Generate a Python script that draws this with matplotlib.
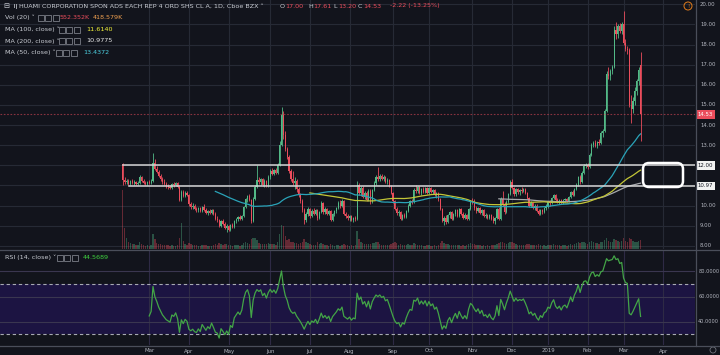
import numpy as np
import pandas as pd
import matplotlib
matplotlib.use("Agg")
import matplotlib.pyplot as plt
from matplotlib.patches import FancyBboxPatch, Rectangle, Circle
from matplotlib.transforms import IdentityTransform, blended_transform_factory

# ---------------- data ----------------
holidays = ['2018-02-19', '2018-03-30', '2018-05-28', '2018-07-04', '2018-09-03',
            '2018-11-22', '2018-12-05', '2018-12-25', '2019-01-01', '2019-01-21',
            '2019-02-18']
start_date, end_date, future_end = '2018-02-08', '2019-03-14', '2019-04-30'

opens = [12.05,11.27,11.15,11.20,11.05,11.20,11.10,11.15,11.05,11.10,11.40,11.20,11.10,11.05,11.15,11.10,11.20,12.10,11.80,11.65,
11.45,11.30,11.15,11.05,10.95,10.90,10.85,11.05,11.00,11.10,10.90,10.25,10.65,10.45,10.60,10.50,10.05,9.95,10.00,9.85,
9.80,9.90,9.75,9.95,9.80,9.65,9.75,9.65,9.80,9.60,9.35,9.30,9.00,9.25,9.10,8.90,9.00,8.80,9.05,8.95,
9.25,9.35,9.45,9.35,9.50,9.95,10.30,10.45,10.25,9.25,10.30,10.90,11.25,11.15,11.30,11.00,11.20,10.95,11.40,11.70,
11.55,11.75,11.60,12.00,13.00,14.50,13.50,12.80,12.40,11.70,11.30,11.10,11.20,10.80,10.50,10.20,9.80,9.30,9.60,9.85,
9.50,9.75,9.60,9.80,9.40,9.70,10.10,9.70,9.85,9.60,9.75,9.30,9.60,9.75,9.90,10.10,10.00,10.20,9.60,9.50,
9.40,9.50,9.30,9.40,9.35,11.00,10.60,10.85,10.40,10.60,10.25,10.70,10.15,10.75,11.10,11.40,11.30,11.45,11.30,11.40,
11.15,11.25,10.95,10.60,10.20,9.85,9.65,9.70,9.35,9.55,9.45,9.75,10.00,10.20,10.15,10.75,10.70,10.90,10.60,10.80,
10.65,10.85,10.60,10.85,10.65,10.75,10.50,10.60,10.30,9.85,9.25,9.40,9.20,9.55,9.70,9.35,9.60,9.80,9.50,9.85,
9.60,9.40,9.55,9.35,9.85,10.20,10.10,9.90,9.75,9.90,9.65,9.80,9.50,9.55,9.40,9.55,9.35,9.25,9.40,9.85,
9.35,10.30,10.05,9.70,10.15,10.55,11.15,10.85,10.55,10.80,10.65,10.75,10.70,10.80,10.60,10.35,10.00,10.10,9.90,10.00,
9.75,9.60,9.80,9.70,9.90,9.95,10.15,10.10,10.35,10.50,10.25,10.15,10.25,10.10,10.25,10.30,10.20,10.40,10.65,10.50,
10.80,11.00,11.40,11.15,11.60,11.95,12.00,11.90,12.50,13.00,13.10,12.95,13.15,13.10,13.60,13.70,14.70,16.55,16.45,16.70,
16.90,18.70,18.50,18.90,18.65,19.00,18.10,17.80,17.75,15.00,14.80,15.20,15.70,16.20,17.00]
highs = [12.10,11.40,11.30,11.30,11.25,11.30,11.25,11.20,11.20,11.50,11.45,11.30,11.20,11.20,11.25,11.30,12.60,12.30,11.95,11.75,
11.55,11.40,11.30,11.15,11.05,11.00,11.10,11.15,11.15,11.15,10.95,10.75,10.75,10.70,10.70,10.55,10.15,10.10,10.05,9.95,
9.95,9.95,10.00,10.05,9.90,9.80,9.85,9.85,9.85,9.70,9.50,9.35,9.30,9.35,9.20,9.10,9.05,9.10,9.15,9.30,
9.40,9.50,9.55,9.55,10.00,10.35,10.50,10.55,10.30,10.40,11.00,12.00,11.40,11.35,11.35,11.30,11.25,11.50,11.80,11.85,
11.80,11.85,12.10,13.20,14.90,14.70,13.70,12.90,12.50,11.80,11.70,11.40,11.30,10.90,10.60,10.30,9.90,9.70,9.95,9.90,
9.85,9.90,9.85,9.85,9.75,10.20,10.15,9.95,9.90,9.80,9.80,9.65,9.80,9.95,10.20,10.25,10.30,10.25,9.70,9.60,
9.55,9.55,9.45,9.50,11.20,11.10,10.95,10.95,10.70,10.70,10.80,10.80,10.80,11.20,11.50,11.90,11.55,11.55,11.50,11.45,
11.35,11.30,11.00,10.65,10.25,9.95,9.80,9.75,9.60,9.65,9.80,10.05,10.25,10.30,10.85,11.00,10.95,10.95,10.85,10.90,
10.90,10.90,10.90,10.90,10.80,10.80,10.65,10.65,10.35,9.90,9.50,9.55,9.60,9.75,9.75,9.65,9.85,9.85,9.90,9.90,
9.70,9.65,9.60,9.90,10.25,10.35,10.30,10.00,9.95,9.95,9.85,9.85,9.65,9.60,9.60,9.60,9.50,9.45,9.90,9.95,
10.40,10.70,10.15,10.25,10.60,11.25,11.30,10.90,10.85,10.85,10.80,10.90,10.85,10.85,10.65,10.40,10.20,10.15,10.05,10.05,
9.85,9.85,9.85,9.95,10.05,10.20,10.25,10.40,10.55,10.55,10.35,10.30,10.30,10.30,10.35,10.35,10.45,10.70,10.75,10.85,
11.10,11.45,11.50,11.70,12.05,12.10,12.10,12.60,13.10,13.20,13.25,13.20,13.30,13.70,13.80,14.80,16.70,16.90,16.80,17.00,
18.90,19.10,19.00,19.05,19.10,19.65,18.30,17.95,17.85,15.50,15.40,15.90,16.30,16.90,17.61]
lows = [11.00,11.05,11.05,11.00,11.00,11.05,11.00,11.00,11.00,11.05,11.15,11.05,11.00,11.00,11.05,11.05,11.15,11.75,11.60,11.40,
11.20,11.05,11.00,10.85,10.80,10.80,10.80,10.90,10.95,10.85,10.20,10.20,10.40,10.40,10.45,10.00,9.85,9.85,9.80,9.70,
9.70,9.70,9.70,9.75,9.60,9.55,9.60,9.60,9.55,9.30,9.20,8.95,8.95,9.05,8.85,8.70,8.75,8.75,8.90,8.90,
9.15,9.25,9.30,9.30,9.45,9.90,10.15,10.20,9.15,9.20,10.25,10.85,11.05,11.00,10.95,10.90,10.90,10.90,11.30,11.50,
11.50,11.55,11.55,11.95,12.95,13.30,12.70,12.30,11.60,11.20,11.00,10.80,10.65,10.40,10.10,9.70,9.10,9.20,9.50,9.40,
9.45,9.55,9.55,9.30,9.35,9.65,9.60,9.60,9.55,9.55,9.25,9.25,9.50,9.65,9.85,9.90,9.95,9.55,9.40,9.30,
9.25,9.25,9.20,9.25,9.30,10.50,10.45,10.35,10.30,10.20,10.20,10.05,10.10,10.70,11.00,11.20,11.20,11.25,11.20,11.10,
11.05,10.90,10.55,10.10,9.80,9.55,9.50,9.30,9.30,9.40,9.40,9.70,9.95,10.05,10.10,10.60,10.60,10.55,10.50,10.60,
10.60,10.55,10.55,10.60,10.55,10.45,10.35,10.20,9.80,9.20,9.05,9.10,9.15,9.40,9.30,9.30,9.50,9.45,9.45,9.55,
9.35,9.35,9.30,9.30,9.80,10.05,9.80,9.65,9.70,9.60,9.55,9.45,9.40,9.35,9.35,9.30,9.15,9.10,9.35,9.30,
9.30,10.00,9.60,9.65,10.10,10.50,10.80,10.45,10.45,10.55,10.50,10.60,10.65,10.55,10.30,9.95,9.95,9.85,9.80,9.70,
9.55,9.55,9.60,9.65,9.80,9.90,10.00,10.05,10.30,10.20,10.10,10.05,10.05,10.05,10.15,10.15,10.15,10.35,10.45,10.45,
10.75,10.95,11.05,11.10,11.55,11.85,11.80,11.85,12.45,12.90,12.90,12.85,13.00,13.05,13.40,13.65,14.65,16.30,16.25,16.55,
16.85,18.30,18.35,18.55,18.50,18.00,17.70,17.55,14.90,14.10,14.60,15.00,15.50,16.00,13.20]
closes = [11.27,11.15,11.20,11.05,11.20,11.10,11.15,11.05,11.10,11.40,11.20,11.10,11.05,11.15,11.10,11.20,12.10,11.80,11.65,11.45,
11.30,11.15,11.05,10.95,10.90,10.85,11.05,11.00,11.10,10.90,10.25,10.65,10.45,10.60,10.50,10.05,9.95,10.00,9.85,9.80,
9.90,9.75,9.95,9.80,9.65,9.75,9.65,9.80,9.60,9.35,9.30,9.00,9.25,9.10,8.90,9.00,8.80,9.05,8.95,9.25,
9.35,9.45,9.35,9.50,9.95,10.30,10.45,10.25,9.25,10.30,10.90,11.25,11.15,11.30,11.00,11.20,10.95,11.40,11.70,11.55,
11.75,11.60,12.00,13.00,14.50,13.50,12.80,12.40,11.70,11.30,11.10,11.20,10.80,10.50,10.20,9.80,9.30,9.60,9.85,9.50,
9.75,9.60,9.80,9.40,9.70,10.10,9.70,9.85,9.60,9.75,9.30,9.60,9.75,9.90,10.10,10.00,10.20,9.60,9.50,9.40,
9.50,9.30,9.40,9.35,11.00,10.60,10.85,10.40,10.60,10.25,10.70,10.15,10.75,11.10,11.40,11.30,11.45,11.30,11.40,11.15,
11.25,10.95,10.60,10.20,9.85,9.65,9.70,9.35,9.55,9.45,9.75,10.00,10.20,10.15,10.75,10.70,10.90,10.60,10.80,10.65,
10.85,10.60,10.85,10.65,10.75,10.50,10.60,10.30,9.85,9.25,9.40,9.20,9.55,9.70,9.35,9.60,9.80,9.50,9.85,9.60,
9.40,9.55,9.35,9.85,10.20,10.10,9.90,9.75,9.90,9.65,9.80,9.50,9.55,9.40,9.55,9.35,9.25,9.40,9.85,9.35,
10.30,10.05,9.70,10.15,10.55,11.15,10.85,10.55,10.80,10.65,10.75,10.70,10.80,10.60,10.35,10.00,10.10,9.90,10.00,9.75,
9.60,9.80,9.70,9.90,9.95,10.15,10.10,10.35,10.50,10.25,10.15,10.25,10.10,10.25,10.30,10.20,10.40,10.65,10.50,10.80,
11.00,11.40,11.15,11.60,11.95,12.00,11.90,12.50,13.00,13.10,12.95,13.15,13.10,13.60,13.70,14.70,16.55,16.45,16.70,16.90,
18.70,18.50,18.90,18.65,19.00,18.10,17.80,17.75,15.00,14.80,15.20,15.70,16.20,16.75,14.53]
volumes_k = [3600,1300,650,450,350,300,280,250,220,400,300,220,200,220,200,250,900,600,350,300,
280,250,230,260,240,200,220,200,210,250,700,1600,500,300,250,380,300,220,250,230,
200,210,240,220,260,200,180,200,230,300,250,350,280,220,300,280,260,240,200,260,
220,240,200,220,380,420,350,300,600,650,700,550,350,300,320,280,300,350,330,280,
300,260,450,900,1500,1400,800,550,600,450,400,350,380,330,360,420,600,400,350,300,
260,240,250,400,300,350,280,230,220,200,280,220,200,220,260,200,230,320,250,220,
200,220,190,260,1100,600,400,350,300,280,320,300,350,380,420,450,300,260,240,250,
220,260,300,380,420,350,250,300,260,220,250,280,260,220,380,300,260,240,220,200,
210,220,230,200,190,220,200,260,350,500,380,300,280,250,260,230,220,240,230,210,
240,200,230,320,380,300,280,250,220,230,200,240,210,220,200,230,250,240,330,350,
450,400,350,330,380,450,400,350,300,260,250,240,220,240,280,320,250,240,220,260,
280,230,200,220,200,250,230,260,280,250,230,220,210,230,220,210,260,300,260,300,
350,420,360,400,450,380,330,450,520,400,350,380,330,420,400,550,650,500,420,450,
600,550,480,450,500,650,500,450,700,600,480,450,420,500,552]

levels_hline = [12.00, 10.97]       # drawn horizontal rays
last_close = 14.53
price_ticks = [20, 19, 18, 17, 16, 15, 14, 13, 10, 9, 8]
rsi_ticks = [80, 60, 40]
legend_title = "HUAMI CORPORATION SPON ADS EACH REP 4 ORD SHS CL A, 1D, Cboe BZX"
ohlc_text = [("O", "17.00"), ("H", "17.61"), ("L", "13.20"), ("C", "14.53")]
change_text = "-2.22 (-13.25%)"
vol_vals = ["552.352K", "418.579K"]
ma_specs = [("MA (100, close)", 100, "11.6140"), ("MA (200, close)", 200, "10.9775"),
            ("MA (50, close)", 50, "13.4372")]
rsi_label, rsi_val = "RSI (14, close)", "44.5689"

# ---------------- derived series ----------------
dates = pd.bdate_range(start_date, end_date)
dates = dates[~dates.isin(pd.to_datetime(holidays))]
fut = pd.bdate_range(pd.Timestamp(end_date) + pd.Timedelta(days=1), future_end)
all_dates = dates.append(fut)
n = len(closes)
xs = np.arange(n)
o = np.array(opens); h = np.array(highs); l = np.array(lows); c = np.array(closes)
v = np.array(volumes_k, dtype=float)

cs = pd.Series(c)
mas = {w: cs.rolling(w).mean().values for w in (50, 100, 200)}

def rsi_wilder(arr, period=14):
    d = np.diff(arr)
    g = np.where(d > 0, d, 0.0); lo = np.where(d < 0, -d, 0.0)
    out = np.full(len(arr), np.nan)
    ag, al = g[:period].mean(), lo[:period].mean()
    out[period] = 100 - 100 / (1 + ag / al)
    for i in range(period, len(d)):
        ag = (ag * (period - 1) + g[i]) / period
        al = (al * (period - 1) + lo[i]) / period
        out[i + 1] = 100 - 100 / (1 + ag / al)
    return out
rsi = rsi_wilder(c)

# month ticks
mt_idx, mt_lbl = [], []
prev = all_dates[0].month
for i, d in enumerate(all_dates):
    if d.month != prev:
        mt_idx.append(i)
        mt_lbl.append(str(d.year) if d.month == 1 else d.strftime('%b'))
        prev = d.month

# ---------------- style ----------------
BG = '#12141c'
GRID = '#262a35'
TXT = '#b2b5be'
UP, DN = '#53b987', '#eb4d5c'
FS = 4.6
AFS = 3.9
W, H = 720, 355

fig = plt.figure(figsize=(7.2, 3.55), dpi=100, facecolor=BG)

def fax(lft, top, rgt, bot):
    a = fig.add_axes([lft / W, 1 - bot / H, (rgt - lft) / W, (bot - top) / H])
    a.set_facecolor(BG)
    for s in a.spines.values():
        s.set_visible(False)
    a.set_xticks([]); a.set_yticks([])
    return a

XLIM = (-64.96, 302.8)
ax = fax(0, 0, 695, 249)
axr = fax(0, 250, 695, 345)
for a in (ax, axr):
    a.set_xlim(*XLIM)
PY = (7.838, 20.214)
ax.set_ylim(*PY)
axr.set_ylim(21.5, 97.0)

# grids
for i in mt_idx:
    ax.axvline(i, color=GRID, lw=0.8, zorder=0)
for p in range(8, 21):
    ax.axhline(p, color=GRID, lw=0.8, zorder=0)

# volume (scaled into lower part of price pane)
VTOP = 15300.0
vscale = (PY[1] - PY[0]) / VTOP
vcol = [UP if c[i] >= o[i] else DN for i in range(n)]
ax.bar(xs, v * vscale, bottom=PY[0], width=0.75, color=vcol, alpha=0.38, zorder=1, linewidth=0)

# candles
for i in range(n):
    col = UP if c[i] >= o[i] else DN
    ax.plot([i, i], [l[i], h[i]], color=col, lw=0.6, zorder=2, solid_capstyle='butt')
    lo_b = min(o[i], c[i]); hb = max(abs(c[i] - o[i]), 0.03)
    ax.bar(i, hb, bottom=lo_b, width=0.62, color=col, linewidth=0, zorder=3)

# moving averages
ax.plot(xs, mas[200], color='#a7a9ad', lw=0.9, zorder=4)
ax.plot(xs, mas[100], color='#c3c637', lw=0.9, zorder=4)
ax.plot(xs, mas[50], color='#2aa3b8', lw=0.9, zorder=4)

# horizontal rays
ax.plot([0, XLIM[1]], [levels_hline[0]] * 2, color='#d6d6d6', lw=1.1, zorder=5)
ax.plot([3.5, XLIM[1]], [levels_hline[1]] * 2, color='#d6d6d6', lw=1.1, zorder=5)
# last price line
ax.axhline(last_close, color=DN, lw=0.8, ls=(0, (1.5, 1.5)), alpha=0.55, zorder=4)

# RSI pane
axr.axhspan(30, 70, color='#1c1442', zorder=0, lw=0)
for i in mt_idx:
    axr.axvline(i, color='#2e2a45', lw=0.8, zorder=0.5)
for r in rsi_ticks:
    axr.axhline(r, color='#3a3650', lw=0.8, zorder=0.6)
for r in (70, 30):
    axr.axhline(r, color='#a8aab3', lw=0.8, ls=(0, (3, 2.5)), zorder=1)
axr.plot(xs, rsi, color='#43a547', lw=0.9, zorder=3)

# separators
fig.add_artist(plt.Line2D([0, 1], [1 - 249.5 / H] * 2, color='#4a4e5a', lw=0.9, transform=fig.transFigure))
fig.add_artist(plt.Line2D([0, 1], [1 - 345.5 / H] * 2, color='#4a4e5a', lw=0.9, transform=fig.transFigure))
fig.add_artist(plt.Line2D([695.5 / W] * 2, [1 - 345.5 / H, 1], color='#4a4e5a', lw=0.9, transform=fig.transFigure))

# right axis labels
bt = blended_transform_factory(ax.transAxes, ax.transData)
for p in price_ticks:
    ax.text(1.0072, p, f"{p:.2f}", transform=bt, color=TXT, fontsize=AFS, va='center', ha='left', clip_on=False)
for p in levels_hline:
    ax.text(1.004, p, f"{p:.2f}", transform=bt, color='#131722', fontsize=AFS, va='center', ha='left',
            clip_on=False, bbox=dict(boxstyle='square,pad=0.35', fc='#f2f2f2', ec='none'))
ax.text(1.004, last_close, f"{last_close:.2f}", transform=bt, color='white', fontsize=AFS, va='center',
        ha='left', clip_on=False, bbox=dict(boxstyle='square,pad=0.35', fc=DN, ec='none'))
btr = blended_transform_factory(axr.transAxes, axr.transData)
for r in rsi_ticks:
    axr.text(1.0045, r, f"{r:.4f}", transform=btr, color=TXT, fontsize=3.6, va='center', ha='left', clip_on=False)

# month labels
btx = blended_transform_factory(axr.transData, fig.transFigure)
for i, s in zip(mt_idx, mt_lbl):
    axr.text(i, 1 - 351 / H, s, transform=btx, color=TXT, fontsize=AFS, ha='center', va='center', clip_on=False)

# rounded rectangle drawing
fig.add_artist(FancyBboxPatch((643, H - 187), 40, 24, boxstyle='round,pad=0,rounding_size=6',
                              transform=IdentityTransform(), fill=False, ec='white', lw=1.8))
# alert icon
fig.add_artist(Circle((688, H - 6), 4, transform=IdentityTransform(), fill=False, ec='#e07b1a', lw=0.7))
fig.text(688 / W, 1 - 6.3 / H, "!", color='#e07b1a', fontsize=4, ha='center', va='center')
fig.add_artist(Circle((713, H - 350), 3, transform=IdentityTransform(), fill=False, ec='#70737c', lw=0.6))

# legends
def T(x, y, s, col, size=FS, ha='left', **kw):
    fig.text(x / W, 1 - y / H, s, color=col, fontsize=size, ha=ha, va='center', **kw)

def boxes(x0, y):
    for k in range(3):
        fig.add_artist(Rectangle((x0 + k * 7.3, H - y - 3), 6, 6, transform=IdentityTransform(),
                                 fill=False, ec='#7b7e87', lw=0.6))

LBL = '#c9ccd3'
T(3, 6, "\u229f", LBL, size=5.2)
for k in range(3):
    fig.add_artist(Rectangle((12.5 + k * 1.6, H - 8.5 + (k % 2)), 0.9, 5 - (k % 2), transform=IdentityTransform(),
                             fc='#9a9da5', ec='none'))
T(19, 6, legend_title + " \u02c5", LBL)
xo = [280, 308, 333, 358]
for (k, val), x0 in zip(ohlc_text, xo):
    T(x0, 6, k, LBL)
    T(x0 + 4.8, 6, val, DN)
T(390, 6, change_text, DN)

T(5, 17.5, "Vol (20) \u02c5", LBL); boxes(38, 17.5)
T(60, 17.5, vol_vals[0], DN); T(93, 17.5, vol_vals[1], '#f0a050')
ma_cols = ['#f4f43a', '#e8e8e8', '#4dd0e1']
rows = [29.5, 41, 52.5]
bx = [59, 59, 56]; vx = [86, 86, 83]
for (lab, w, val), y, col, b0, x0 in zip(ma_specs, rows, ma_cols, bx, vx):
    T(5, y, lab + " \u02c5", LBL); boxes(b0, y); T(x0, y, val, col)

T(5, 257.5, rsi_label + " \u02c5", LBL); boxes(57, 257.5); T(83, 257.5, rsi_val, '#3fd13f')

fig.savefig("out.png", dpi=100, facecolor=BG)
